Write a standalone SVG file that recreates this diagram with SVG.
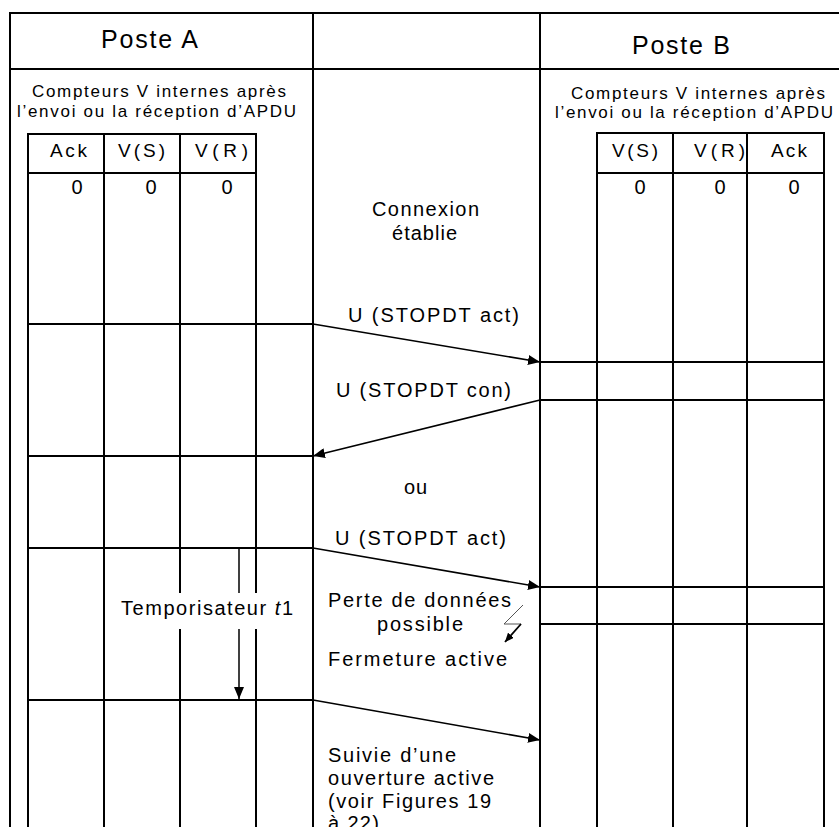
<svg xmlns="http://www.w3.org/2000/svg" width="839" height="827" viewBox="0 0 839 827">
  <style>
    .t { font-family: "Liberation Sans", Arial, sans-serif; fill: #000; }
    .f24 { font-size: 25px; }
    .f16 { font-size: 17px; }
    .f18 { font-size: 19px; }
    .f19 { font-size: 20px; }
    .grid { stroke: #000; stroke-width: 2; fill: none; }
    .row { stroke: #000; stroke-width: 1.8; fill: none; }
    .msg { stroke: #000; stroke-width: 1.6; fill: none; marker-end: url(#ah); }
  </style>
  <defs>
    <marker id="ah" markerUnits="userSpaceOnUse" markerWidth="12" markerHeight="10" refX="12" refY="5" orient="auto">
      <path d="M0,0 L12,5 L0,10 z" fill="#000"/>
    </marker>
    <marker id="ahs" markerUnits="userSpaceOnUse" markerWidth="9" markerHeight="8" refX="9" refY="4" orient="auto">
      <path d="M0,0 L9,4 L0,8 z" fill="#000"/>
    </marker>
  </defs>
  <rect width="839" height="827" fill="#fff"/>

  <!-- frame and header -->
  <g id="frame" class="grid">
    <line x1="10" y1="13" x2="839" y2="13"/>
    <line x1="10" y1="69" x2="839" y2="69"/>
    <line x1="10" y1="12" x2="10" y2="827"/>
    <line x1="313" y1="12" x2="313" y2="827"/>
    <line x1="540" y1="12" x2="540" y2="827"/>
  </g>

  <!-- station A -->
  <g id="poste-a">
    <text class="t f24" x="101" y="48" textLength="97" lengthAdjust="spacing">Poste A</text>
    <text class="t f16" x="32" y="97" textLength="254" lengthAdjust="spacing">Compteurs V internes après</text>
    <text class="t f16" x="17" y="117" textLength="279" lengthAdjust="spacing">l’envoi ou la réception d’APDU</text>
    <g class="grid">
      <line x1="28" y1="134" x2="256" y2="134"/>
      <line x1="28" y1="173" x2="256" y2="173"/>
      <line x1="28" y1="133" x2="28" y2="827"/>
      <line x1="104" y1="133" x2="104" y2="827"/>
      <line x1="180" y1="133" x2="180" y2="827"/>
      <line x1="256" y1="133" x2="256" y2="827"/>
    </g>
    <g class="row">
      <line x1="28" y1="324" x2="313" y2="324"/>
      <line x1="28" y1="456" x2="313" y2="456"/>
      <line x1="28" y1="548" x2="313" y2="548"/>
      <line x1="28" y1="700" x2="313" y2="700"/>
    </g>
    <text class="t f18" x="50" y="157" textLength="37" lengthAdjust="spacing">Ack</text>
    <text class="t f18" x="118" y="157" textLength="47" lengthAdjust="spacing">V(S)</text>
    <text class="t f18" x="195" y="157" textLength="53" lengthAdjust="spacing">V(R)</text>
    <text class="t f19" x="77" y="194" text-anchor="middle">0</text>
    <text class="t f19" x="151" y="194" text-anchor="middle">0</text>
    <text class="t f19" x="227" y="194" text-anchor="middle">0</text>
  </g>

  <!-- station B -->
  <g id="poste-b">
    <text class="t f24" x="632" y="54" textLength="98" lengthAdjust="spacing">Poste B</text>
    <text class="t f16" x="571" y="99" textLength="254" lengthAdjust="spacing">Compteurs V internes après</text>
    <text class="t f16" x="555" y="118" textLength="278" lengthAdjust="spacing">l’envoi ou la réception d’APDU</text>
    <g class="grid">
      <line x1="597" y1="133" x2="824" y2="133"/>
      <line x1="597" y1="173" x2="824" y2="173"/>
      <line x1="597" y1="132" x2="597" y2="827"/>
      <line x1="673" y1="132" x2="673" y2="827"/>
      <line x1="747" y1="132" x2="747" y2="827"/>
      <line x1="824" y1="132" x2="824" y2="827"/>
    </g>
    <g class="row">
      <line x1="540" y1="362" x2="824" y2="362"/>
      <line x1="540" y1="400" x2="824" y2="400"/>
      <line x1="540" y1="587" x2="824" y2="587"/>
      <line x1="540" y1="624" x2="824" y2="624"/>
    </g>
    <text class="t f18" x="612" y="157" textLength="46" lengthAdjust="spacing">V(S)</text>
    <text class="t f18" x="694" y="157" textLength="51" lengthAdjust="spacing">V(R)</text>
    <text class="t f18" x="771" y="157" textLength="36" lengthAdjust="spacing">Ack</text>
    <text class="t f19" x="640" y="194" text-anchor="middle">0</text>
    <text class="t f19" x="720" y="194" text-anchor="middle">0</text>
    <text class="t f19" x="794" y="194" text-anchor="middle">0</text>
  </g>

  <!-- exchanged frames -->
  <g id="connectors">
    <line class="msg" x1="313" y1="324" x2="540" y2="362"/>
    <line class="msg" x1="540" y1="400" x2="313" y2="456"/>
    <line class="msg" x1="313" y1="548" x2="540" y2="587"/>
    <line class="msg" x1="313" y1="700" x2="540" y2="740"/>
  </g>

  <!-- labels in the middle lane -->
  <g id="etat-connexion">
    <text class="t f19" x="372" y="216" textLength="107" lengthAdjust="spacing">Connexion</text>
    <text class="t f19" x="392" y="240" textLength="65" lengthAdjust="spacing">établie</text>
  </g>
  <g id="label-stopdt-act-1">
    <text class="t f19" x="348" y="322" textLength="171" lengthAdjust="spacing">U (STOPDT act)</text>
  </g>
  <g id="label-stopdt-con">
    <text class="t f19" x="336" y="397" textLength="175" lengthAdjust="spacing">U (STOPDT con)</text>
  </g>
  <g id="label-ou">
    <text class="t f19" x="404" y="494" textLength="23" lengthAdjust="spacing">ou</text>
  </g>
  <g id="label-stopdt-act-2">
    <text class="t f19" x="335" y="545" textLength="171" lengthAdjust="spacing">U (STOPDT act)</text>
  </g>
  <g id="perte-donnees">
    <text class="t f19" x="328" y="607" textLength="183" lengthAdjust="spacing">Perte de données</text>
    <text class="t f19" x="377" y="631" textLength="86" lengthAdjust="spacing">possible</text>
    <polyline points="523,605 504,624 521,624" fill="none" stroke="#555" stroke-width="1"/>
    <line x1="521" y1="624" x2="505" y2="642" stroke="#000" stroke-width="1.8" marker-end="url(#ahs)"/>
  </g>
  <g id="fermeture-active">
    <text class="t f19" x="328" y="666" textLength="179" lengthAdjust="spacing">Fermeture active</text>
  </g>
  <g id="ouverture-active">
    <text class="t f19" x="328" y="762" textLength="128" lengthAdjust="spacing">Suivie d’une</text>
    <text class="t f19" x="328" y="785" textLength="166" lengthAdjust="spacing">ouverture active</text>
    <text class="t f19" x="328" y="808" textLength="163" lengthAdjust="spacing">(voir Figures 19</text>
    <text class="t f19" x="328" y="830" textLength="51" lengthAdjust="spacing">à 22)</text>
  </g>

  <!-- timer t1 -->
  <g id="temporisateur">
    <line x1="239" y1="548" x2="239" y2="699" stroke="#000" stroke-width="1.5" marker-end="url(#ah)"/>
    <rect x="116" y="593" width="184" height="36" fill="#fff"/>
    <text class="t f19" x="121" y="615" textLength="172" lengthAdjust="spacing">Temporisateur <tspan font-style="italic">t</tspan>1</text>
  </g>
</svg>
